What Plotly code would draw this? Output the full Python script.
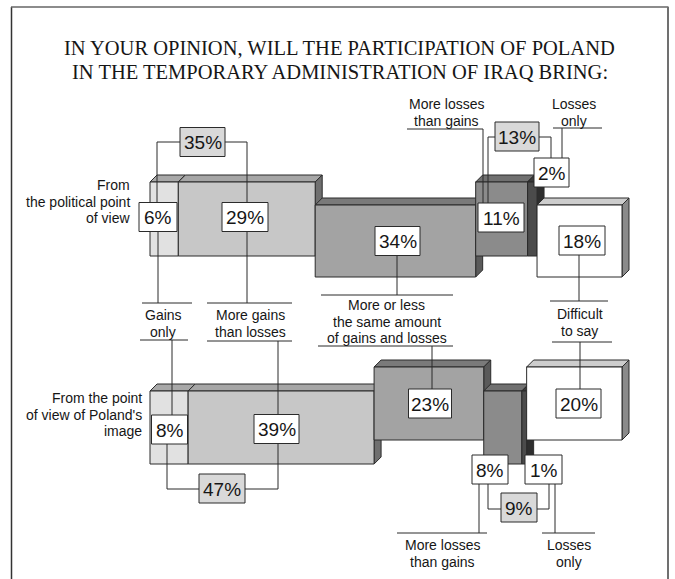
import plotly.graph_objects as go

# ---- data ---------------------------------------------------------------
categories = ["Gains only", "More gains than losses",
              "More or less the same amount of gains and losses",
              "More losses than gains", "Losses only", "Difficult to say"]
category_lines = [["Gains", "only"], ["More gains", "than losses"],
                  ["More or less", "the same amount", "of gains and losses"],
                  ["More losses", "than gains"], ["Losses", "only"],
                  ["Difficult", "to say"]]
political_view = [6, 29, 34, 11, 2, 18]
poland_image = [8, 39, 23, 8, 1, 20]
row_labels = [["From", "the political point", "of view"],
              ["From the point", "of view of Poland's", "image"]]
title_lines = ["IN YOUR OPINION, WILL THE PARTICIPATION OF POLAND",
               "IN THE TEMPORARY ADMINISTRATION OF IRAQ BRING:"]

# ---- geometry / style ---------------------------------------------------
W, H = 675, 579
PX0, PX_PER_PCT = 150.0, 4.72          # where 0 % sits and pixels per percent


def X(px):
    """pixel column -> percent axis value"""
    return (px - PX0) / PX_PER_PCT


DEPTH_X = 7 / PX_PER_PCT
DEPTH_Y = 7
EDGE = "#2b2b2b"
INK = "#161616"
SANS = "Liberation Sans, Arial, sans-serif"
SERIF = "Liberation Serif, Times New Roman, serif"

front_colors = ["#e1e1e1", "#c7c7c7", "#a3a3a3", "#8b8b8b", "#4b4b4b", "#ffffff"]
top_colors = ["#a8a8a8", "#a6a6a6", "#7a7a7a", "#707070", "#3a3a3a", "#cdcdcd"]
side_colors = ["#8a8a8a", "#6f6f6f", "#5a5a5a", "#5a5a5a", "#2e2e2e", "#8a8a8a"]

# block (top, bottom) for low-set ("a") and high-set ("b") categories per row
row_levels = [{"a": (182, 256), "b": (205, 277)},
              {"a": (391, 464), "b": (367, 440)}]
level_of = ["a", "a", "b", "a", "a", "b"]

fig = go.Figure()


def face(xs, ys, color):
    fig.add_trace(go.Scatter(x=xs, y=ys, mode="lines", fill="toself",
                             fillcolor=color, line=dict(color=EDGE, width=1),
                             hoverinfo="skip", showlegend=False))


def draw_row(values, levels):
    """Each row spans the full width: blocks are shares of the row total."""
    total = float(sum(values))
    start = 0.0
    for i, v in enumerate(values):
        x0, x1 = start, start + v / total * 100.0
        top, bot = levels[level_of[i]]
        face([x0, x1, x1 + DEPTH_X, x0 + DEPTH_X, x0],
             [top, top, top - DEPTH_Y, top - DEPTH_Y, top], top_colors[i])
        face([x1, x1 + DEPTH_X, x1 + DEPTH_X, x1, x1],
             [top, top - DEPTH_Y, bot - DEPTH_Y, bot, top], side_colors[i])
        face([x0, x1, x1, x0, x0], [top, top, bot, bot, top], front_colors[i])
        start = x1


draw_row(political_view, row_levels[0])
draw_row(poland_image, row_levels[1])


def seg(points):
    path = "M " + " L ".join(f"{X(x)},{y}" for x, y in points)
    fig.add_shape(type="path", path=path, xref="x", yref="y",
                  line=dict(color=EDGE, width=1), layer="above")


def value_box(value, cx, cy, w, fill="#ffffff", h=29):
    fig.add_shape(type="rect", xref="x", yref="y",
                  x0=X(cx - w / 2), x1=X(cx + w / 2), y0=cy - h / 2, y1=cy + h / 2,
                  line=dict(color=EDGE, width=1), fillcolor=fill, layer="above")
    fig.add_annotation(x=X(cx), y=cy + 0.5, text=f"{value}%", showarrow=False,
                       xanchor="center", yanchor="middle",
                       font=dict(family=SANS, size=19, color=INK))


def text_lines(lines, x, y0, step=16.5, align="center", size=14, family=SANS):
    for k, t in enumerate(lines):
        fig.add_annotation(x=X(x), y=y0 + k * step, text=t, showarrow=False,
                           xanchor=align, yanchor="middle",
                           font=dict(family=family, size=size, color=INK))


# ---- connector lines ----------------------------------------------------
# political point of view
seg([(157, 202), (157, 142), (180, 142)])
seg([(225, 142), (247, 142), (247, 202.5)])
seg([(158, 231.5), (158, 303)])
seg([(142, 303), (192, 303)])
seg([(247, 231.5), (247, 303)])
seg([(207, 303), (292, 303)])
seg([(397, 255.5), (397, 295)])
seg([(321, 295), (453, 295)])
seg([(407, 129), (483, 129), (483, 203)])
seg([(488, 203), (488, 137), (495, 137)])
seg([(539, 137), (551, 137), (551, 158)])
seg([(553, 128), (602, 128)])
seg([(562, 128), (562, 158)])
seg([(579, 255), (579, 301)])
seg([(550, 301), (608, 301)])
# Poland's image
seg([(140, 340), (188, 340)])
seg([(172, 340), (172, 415)])
seg([(207, 341), (292, 341)])
seg([(278, 341), (278, 414.5)])
seg([(318, 346), (453, 346)])
seg([(432, 346), (432, 389)])
seg([(552, 342), (612, 342)])
seg([(580, 342), (580, 389)])
seg([(167, 444), (167, 489), (199, 489)])
seg([(245, 489), (278, 489), (278, 443.5)])
seg([(479, 484), (479, 533)])
seg([(397, 533), (487, 533)])
seg([(488, 484), (488, 509), (501, 509)])
seg([(537, 509), (549, 509), (549, 484)])
seg([(555, 484), (555, 533)])
seg([(542, 533), (595, 533)])

# ---- value boxes --------------------------------------------------------
pol_boxes = [(158, 217, 38), (245, 217, 46), (397.5, 241, 45),
             (501, 217.5, 46), (551.5, 172.5, 35), (582, 240.5, 46)]
img_boxes = [(169.5, 429.5, 36), (276.5, 429, 45), (430, 403.5, 43),
             (490, 469.5, 36), (543.5, 469.5, 37), (578.5, 403.5, 45)]
for v, (cx, cy, w) in zip(political_view, pol_boxes):
    value_box(v, cx, cy, w)
for v, (cx, cy, w) in zip(poland_image, img_boxes):
    value_box(v, cx, cy, w)

TOTAL_FILL = "#d9d9d9"
value_box(political_view[0] + political_view[1], 202.5, 142, 45, TOTAL_FILL)
value_box(political_view[3] + political_view[4], 517, 136.5, 44, TOTAL_FILL)
value_box(poland_image[0] + poland_image[1], 222, 488.5, 46, TOTAL_FILL)
value_box(poland_image[3] + poland_image[4], 519, 507.5, 36, TOTAL_FILL)

# ---- category captions --------------------------------------------------
text_lines(category_lines[0], 163, 315)
text_lines(category_lines[1], 250.5, 315)
text_lines(category_lines[2], 386.5, 305)
text_lines(category_lines[3], 446, 104)
text_lines(category_lines[4], 574, 104)
text_lines(category_lines[5], 579.5, 314)
text_lines(category_lines[3], 442, 545)
text_lines(category_lines[4], 569, 545)

# ---- row captions -------------------------------------------------------
text_lines(row_labels[0], 132, 185, align="right")
text_lines(row_labels[1], 144, 398, align="right")

# ---- title --------------------------------------------------------------
text_lines(title_lines, 339.5, 48, step=24, size=20.5, family=SERIF)

# ---- frame --------------------------------------------------------------
fig.add_shape(type="line", xref="x", yref="y", x0=X(11.5), x1=X(11.5), y0=7, y1=H,
              line=dict(color="#333333", width=1.5), layer="above")
fig.add_shape(type="line", xref="x", yref="y", x0=X(11), x1=X(668.5), y0=7, y1=7,
              line=dict(color="#666666", width=1.5), layer="above")
fig.add_shape(type="line", xref="x", yref="y", x0=X(668), x1=X(668), y0=7, y1=H,
              line=dict(color="#707070", width=2), layer="above")

fig.update_layout(
    width=W, height=H, margin=dict(l=0, r=0, t=0, b=0),
    paper_bgcolor="white", plot_bgcolor="white", showlegend=False,
    xaxis=dict(range=[X(0), X(W)], visible=False, fixedrange=True),
    yaxis=dict(range=[H, 0], visible=False, fixedrange=True),
)

fig.write_html("out.html")
